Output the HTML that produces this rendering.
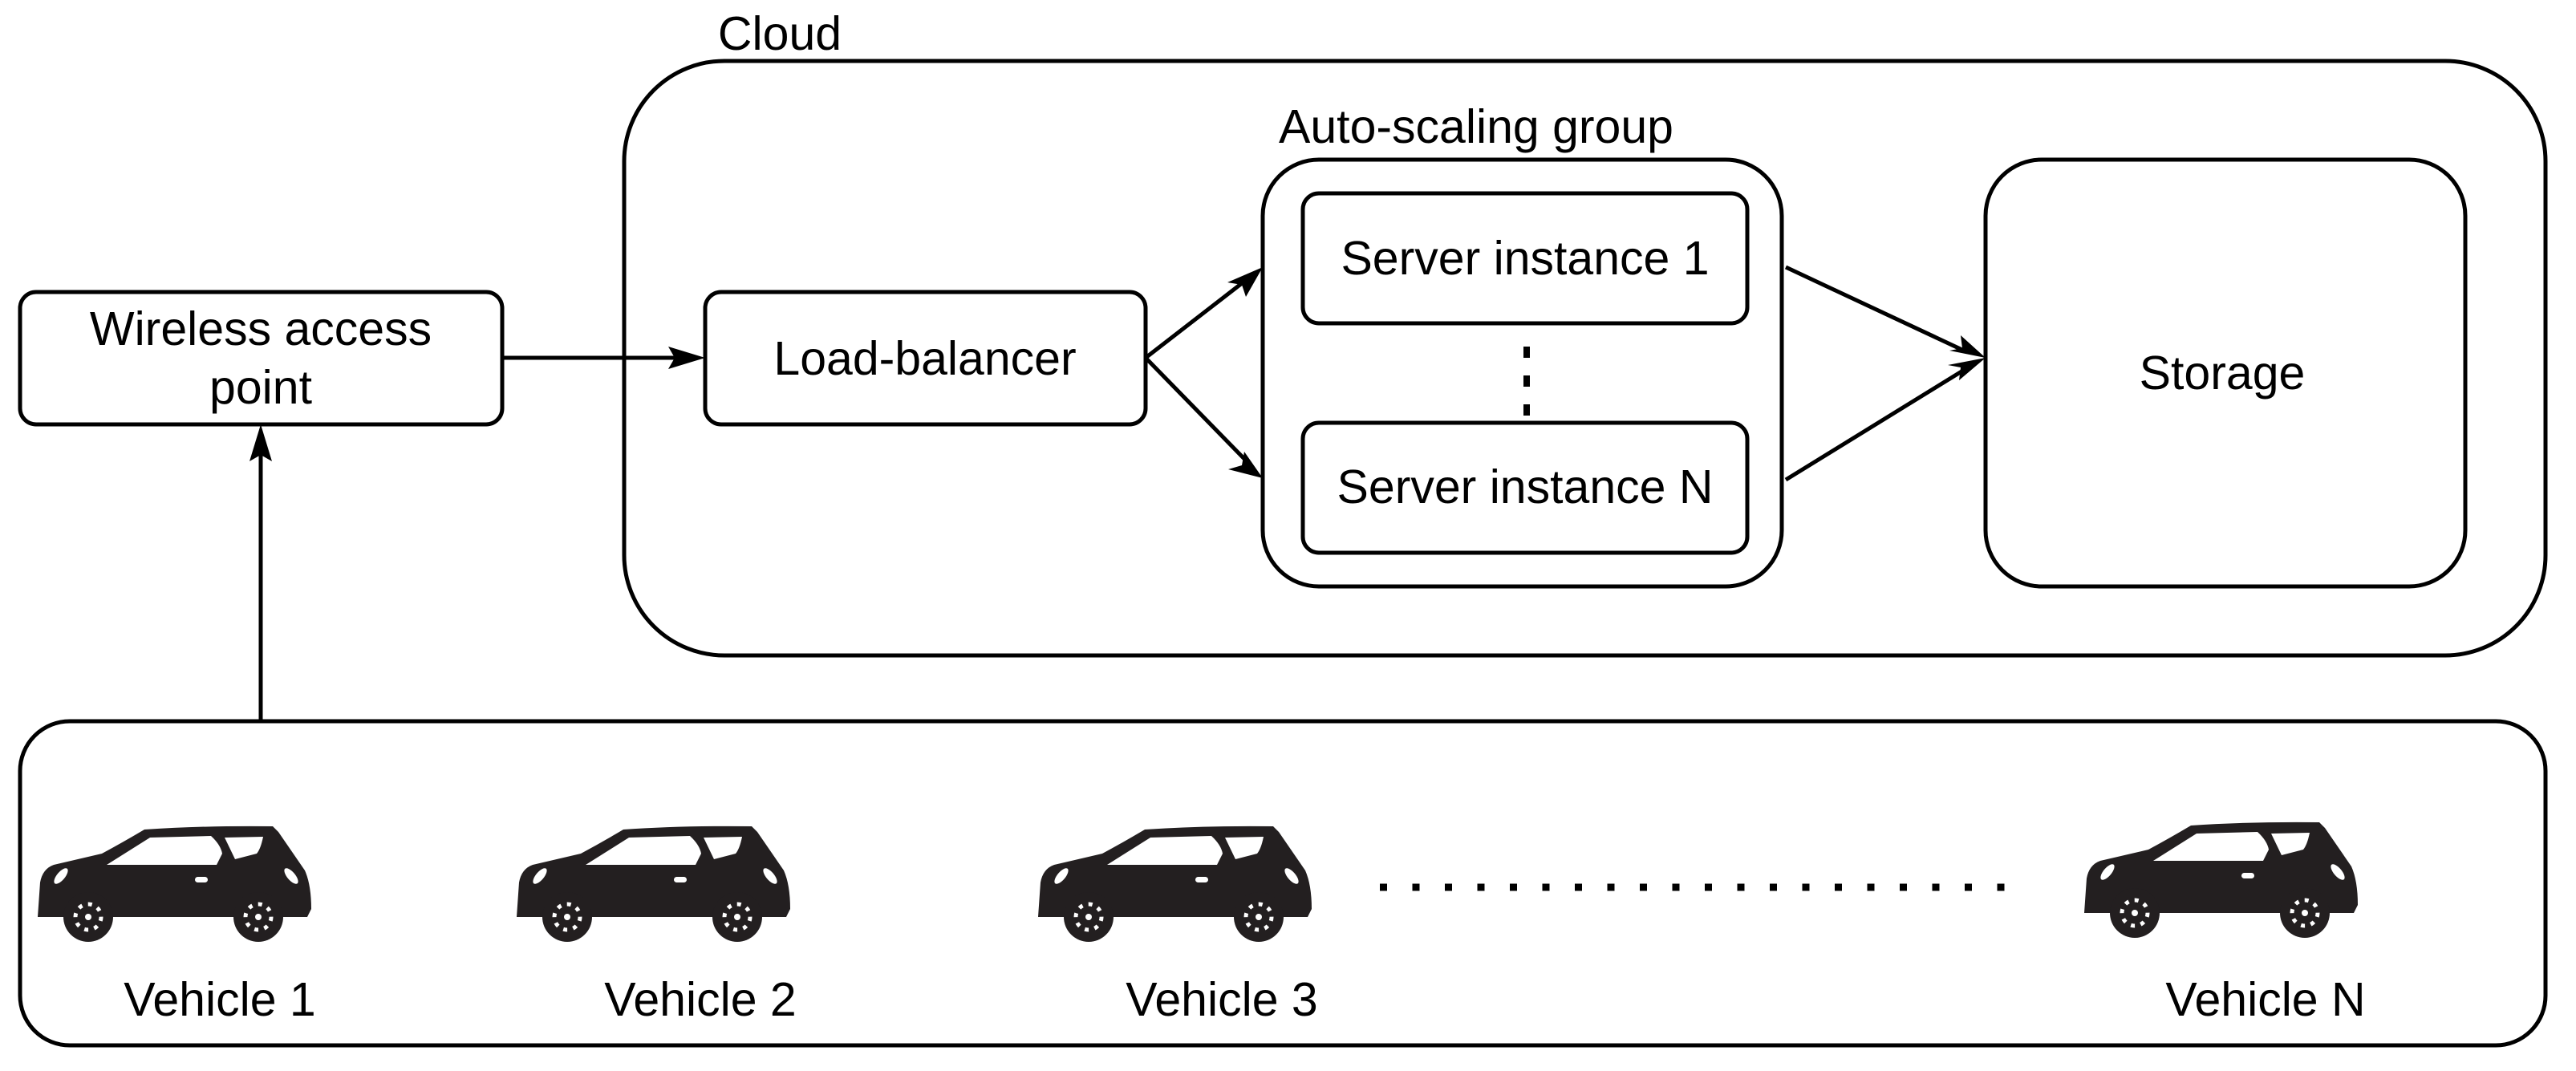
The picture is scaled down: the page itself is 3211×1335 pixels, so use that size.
<!DOCTYPE html>
<html><head><meta charset="utf-8"><style>
html,body{margin:0;padding:0;background:#fff;}
svg{display:block;}
text{font-family:"Liberation Sans",Arial,sans-serif;fill:#000;}
</style></head><body>
<svg width="3211" height="1335" viewBox="0 0 3211 1335" xmlns="http://www.w3.org/2000/svg">
<defs>
<symbol id="car" viewBox="0 0 347 147">
<path d="M4,115 L7,72 Q10,55 24,50 L84,36 Q110,22 137,6 Q210,1 297,2 L304,9 L337,57 Q345,75 345,105 L340,115 Z" fill="#231f20"/>
<circle cx="67" cy="115" r="31" fill="#231f20"/>
<circle cx="279" cy="115" r="31" fill="#231f20"/>
<path d="M90,50 L144,16 L220,14 Q232,25 234,36 L227,50 Z" fill="#fff"/>
<path d="M237,16 L285,15 Q282,30 277,36 L250,43 Z" fill="#fff"/>
<ellipse cx="33" cy="64" rx="5" ry="12" transform="rotate(40 33 64)" fill="#fff"/>
<ellipse cx="320" cy="64" rx="5" ry="12" transform="rotate(-40 320 64)" fill="#fff"/>
<rect x="200" y="65" width="16" height="7" rx="3.5" fill="#fff"/>
<circle cx="67" cy="115" r="16" fill="none" stroke="#fff" stroke-width="5" stroke-dasharray="5 7.5"/>
<circle cx="67" cy="115" r="4" fill="#fff"/>
<circle cx="279" cy="115" r="16" fill="none" stroke="#fff" stroke-width="5" stroke-dasharray="5 7.5"/>
<circle cx="279" cy="115" r="4" fill="#fff"/>
</symbol>
</defs>
<g fill="none" stroke="#000" stroke-width="5">
<rect x="778" y="76" width="2395" height="741" rx="125"/>
<rect x="25" y="364" width="601" height="165" rx="20"/>
<rect x="879" y="364" width="549" height="165" rx="20"/>
<rect x="1574" y="199" width="647" height="532" rx="70"/>
<rect x="1624" y="241" width="554" height="162" rx="20"/>
<rect x="1624" y="527" width="554" height="162" rx="20"/>
<rect x="2475" y="199" width="598" height="532" rx="70"/>
<rect x="25" y="899" width="3148" height="404" rx="62"/>
<line x1="1903" y1="432" x2="1903" y2="527" stroke-width="8" stroke-dasharray="14 22"/>
<line x1="325" y1="899" x2="325" y2="560"/>
<line x1="626" y1="446" x2="848" y2="446"/>
<line x1="1428" y1="446" x2="1552" y2="350"/>
<line x1="1428" y1="446" x2="1554" y2="575"/>
<line x1="2226" y1="333" x2="2448" y2="437"/>
<line x1="2226" y1="598" x2="2450" y2="460"/>
<line x1="1720" y1="1106" x2="2510" y2="1106" stroke-width="9" stroke-dasharray="9 31.5"/>
</g>
<g fill="#000">
<polygon points="325,529 311,575 325,567 339,575"/>
<polygon points="879,446 833,432 841,446 833,460"/>
<polygon points="1574,333 1553,370 1548,355 1530,352" />
<polygon points="1574,596 1531,585 1548,580 1551,563"/>
<polygon points="2475,446 2444,418 2446,434 2430,437"/>
<polygon points="2475,446 2442,474 2444,458 2428,455"/>
</g>
<use href="#car" x="43" y="1028" width="347" height="147"/>
<use href="#car" x="640" y="1028" width="347" height="147"/>
<use href="#car" x="1290" y="1028" width="347" height="147"/>
<use href="#car" x="2594" y="1023" width="347" height="147"/>
<g font-size="59" text-anchor="middle">
<text x="972" y="62">Cloud</text>
<text x="1840" y="178">Auto-scaling group</text>
<text x="325" y="430">Wireless access</text>
<text x="325" y="503">point</text>
<text x="1153" y="467">Load-balancer</text>
<text x="1901" y="342">Server instance 1</text>
<text x="1901" y="627">Server instance N</text>
<text x="2770" y="485">Storage</text>
<text x="274" y="1266">Vehicle 1</text>
<text x="873" y="1266">Vehicle 2</text>
<text x="1523" y="1266">Vehicle 3</text>
<text x="2824" y="1266">Vehicle N</text>
</g>
</svg>
</body></html>
